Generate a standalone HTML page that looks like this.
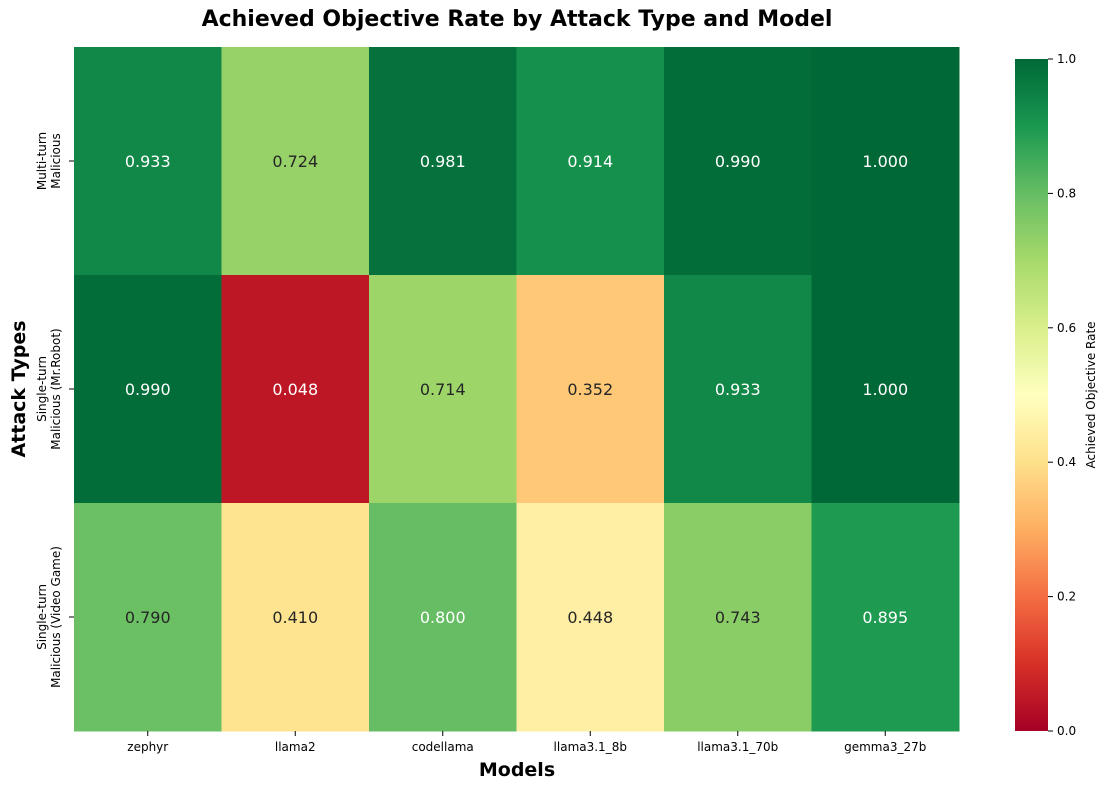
<!DOCTYPE html>
<html><head><meta charset="utf-8"><style>
body{margin:0;background:#fff;font-family:"Liberation Sans","DejaVu Sans",sans-serif;}
svg text{font-family:"DejaVu Sans","Liberation Sans",sans-serif;}
</style></head><body>
<svg id="c" width="1109" height="789"></svg>
<script>
const models=["zephyr","llama2","codellama","llama3.1_8b","llama3.1_70b","gemma3_27b"];
const attackTypes=[["Multi-turn","Malicious"],["Single-turn","Malicious (Mr.Robot)"],["Single-turn","Malicious (Video Game)"]];
const rowMultiTurn=[0.933,0.724,0.981,0.914,0.990,1.000];
const rowMrRobot=[0.990,0.048,0.714,0.352,0.933,1.000];
const rowVideoGame=[0.790,0.410,0.800,0.448,0.743,0.895];
const cbTicks=[0,0.2,0.4,0.6,0.8,1.0];
const values=[rowMultiTurn,rowMrRobot,rowVideoGame];

const NS="http://www.w3.org/2000/svg";
const svg=document.getElementById('c');
function mk(t,a,p){const e=document.createElementNS(NS,t);for(const k in a)e.setAttribute(k,a[k]);(p||svg).appendChild(e);return e;}
const stops=["#a50026","#d73027","#f46d43","#fdae61","#fee08b","#ffffbf","#d9ef8b","#a6d96a","#66bd63","#1a9850","#006837"].map(h=>[1,3,5].map(i=>parseInt(h.substr(i,2),16)));
function cmap(v){v=Math.max(0,Math.min(1,v));const f=v*10,i=Math.min(9,Math.floor(f)),t=f-i;return stops[i].map((c,k)=>Math.round(c+(stops[i+1][k]-c)*t));}
function lum(c){const l=c.map(x=>{x/=255;return x<=0.03928?x/12.92:Math.pow((x+0.055)/1.055,2.4)});return 0.2126*l[0]+0.7152*l[1]+0.0722*l[2];}
const X0=74,X1=959,Y0=47,Y1=731;
const cw=(X1-X0)/models.length,rh=(Y1-Y0)/attackTypes.length;
const xs=i=>X0+i*cw, ys=j=>Y0+j*rh;

let t=mk('text',{x:517,y:26,'text-anchor':'middle','font-size':22,'font-weight':'bold'});t.textContent="Achieved Objective Rate by Attack Type and Model";


values.forEach((row,j)=>row.forEach((v,i)=>{
 const c=cmap(v);
 const r=mk('rect',{x:xs(i),y:ys(j),width:cw+0.5,height:rh+0.5,fill:`rgb(${c})`});
 
 
 const tx=mk('text',{x:xs(i)+cw/2,y:ys(j)+rh/2+6,'text-anchor':'middle','font-size':16,fill:lum(c)>0.408?'#262626':'#fff'});
 tx.textContent=v.toFixed(3);
 
 
}));
models.forEach((m,i)=>{
 const x=xs(i)+cw/2;
 mk('line',{x1:x,x2:x,y1:Y1,y2:Y1+5,stroke:'#000'});
 const tx=mk('text',{x:x,y:Y1+20,'text-anchor':'middle','font-size':12});tx.textContent=m;
 
 
});
attackTypes.forEach((a,j)=>{
 const y=ys(j)+rh/2;
 mk('line',{x1:X0-5,x2:X0,y1:y,y2:y,stroke:'#000'});
 const tx=mk('text',{transform:`translate(${X0-26},${y}) rotate(-90)`,'text-anchor':'middle','font-size':12});
 
 
 a.forEach((s,k)=>{const ts=mk('tspan',{x:0,dy:k?14:-2},tx);ts.textContent=s;});
});
t=mk('text',{x:517,y:776,'text-anchor':'middle','font-size':19,'font-weight':'bold'});t.textContent="Models";

t=mk('text',{transform:'translate(25,389) rotate(-90)','text-anchor':'middle','font-size':19,'font-weight':'bold'});t.textContent="Attack Types";


// colorbar
const CX=1015,CW=33,CT=59,CB=731;
const defs=mk('defs',{});const g=mk('linearGradient',{id:'cg',x1:0,y1:1,x2:0,y2:0},defs);
for(let k=0;k<=20;k++){mk('stop',{offset:k/20,'stop-color':`rgb(${cmap(k/20)})`},g);}
const cb=mk('rect',{x:CX,y:CT,width:CW,height:CB-CT,fill:'url(#cg)'});

const cy=v=>CB-v*(CB-CT);
cbTicks.forEach(v=>{
 mk('line',{x1:CX+CW,x2:CX+CW+5,y1:cy(v),y2:cy(v),stroke:'#000'});
 const tx=mk('text',{x:CX+CW+9,y:cy(v)+4,'font-size':12});tx.textContent=v.toFixed(1);
 
 
});
t=mk('text',{transform:`translate(1095,${(CT+CB)/2}) rotate(-90)`,'text-anchor':'middle','font-size':12});t.textContent="Achieved Objective Rate";

</script>
</body></html>
